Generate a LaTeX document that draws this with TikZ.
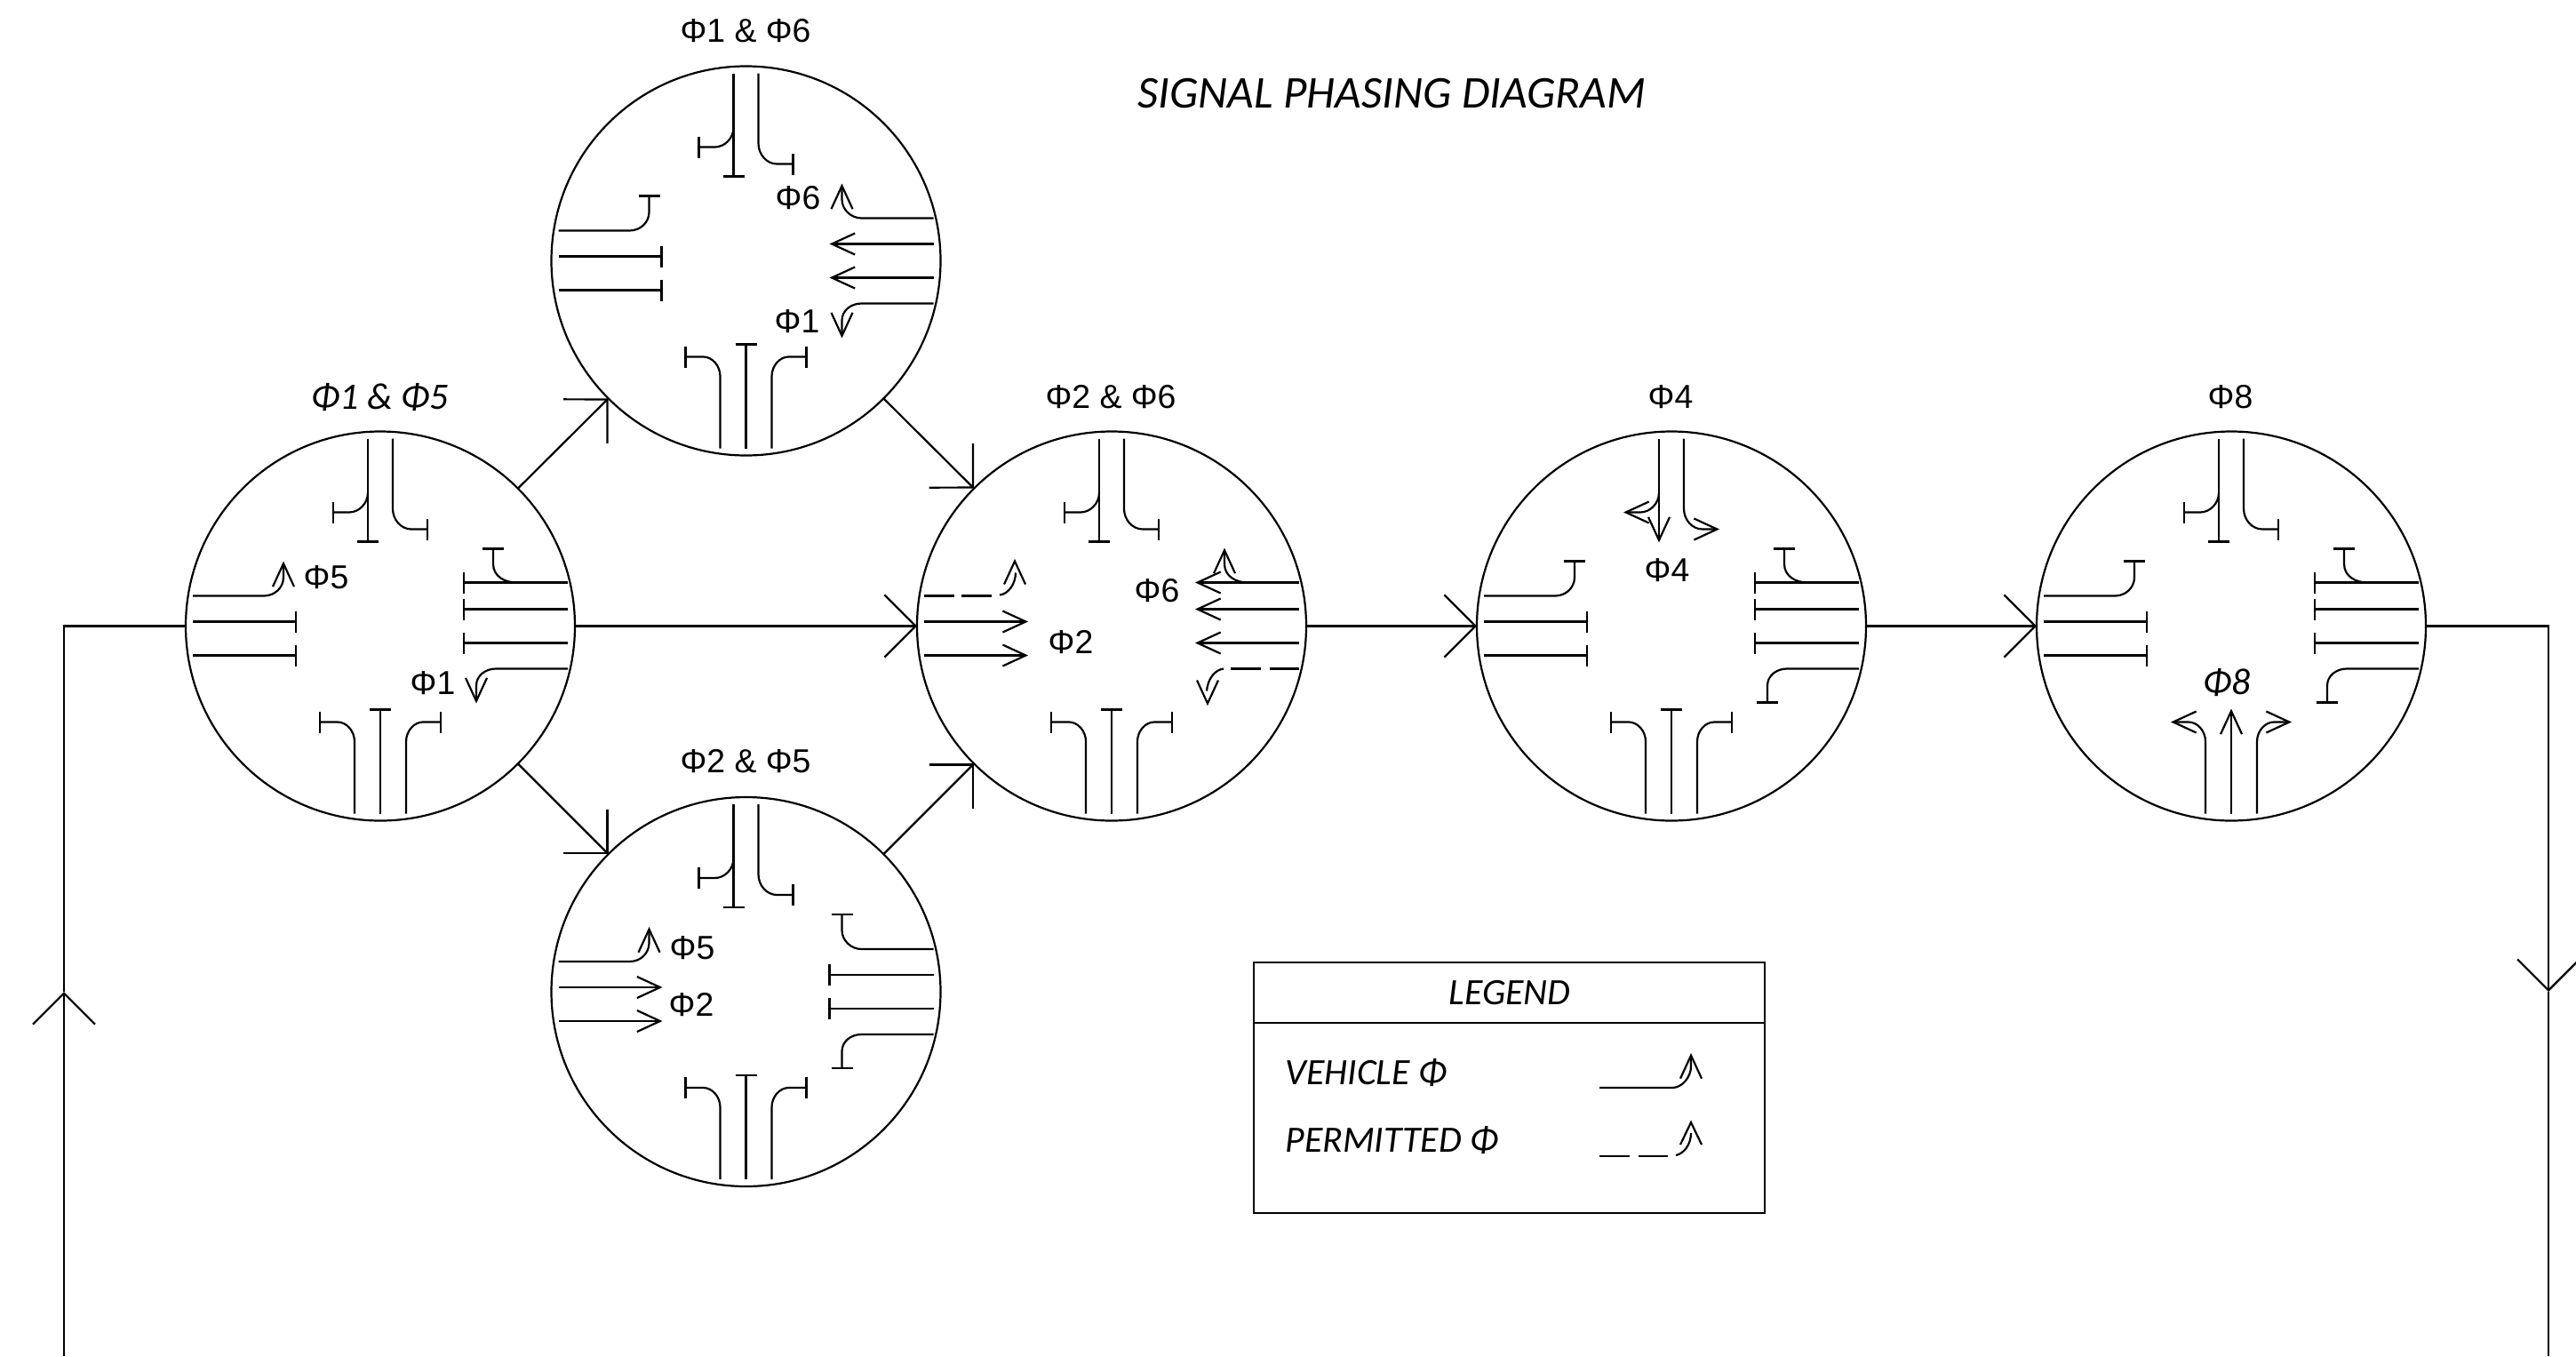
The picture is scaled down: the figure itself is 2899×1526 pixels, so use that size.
\documentclass[tikz,border=0pt]{standalone}
\usepackage{fontspec}
\setmainfont{Liberation Sans}
\newfontfamily\cali{Carlito}
\usetikzlibrary{arrows.meta}
\tikzset{
  x=0.5pt,y=-0.5pt,
  lw/.style={line width=1.1pt,line cap=butt},
  phase/.style={circle,draw,line width=1.1pt,minimum size=219pt,inner sep=0pt,outer sep=0pt},
  flow/.style={lw,-{Straight Barb[length=17.5pt,width=35pt]}},
  laneline/.style={lw},
  lanearrow/.style={lw,-{Straight Barb[length=13pt,width=12pt]}},
  lbl/.style={font=\fontsize{18.7}{20}\selectfont,inner sep=0pt},
  ilbl/.style={font=\cali\itshape\fontsize{21}{23}\selectfont,inner sep=0pt},
  ttl/.style={font=\cali\itshape\fontsize{25.6}{28}\selectfont,inner sep=0pt},
  leg/.style={font=\cali\itshape\fontsize{20.9}{23}\selectfont,inner sep=0pt},
}
% --- north approach
\newcommand\phNstop{%
  \draw[laneline] (-14,-211) -- (-14,-95);
  \draw[laneline] (-26,-95) -- (-2,-95);
  \draw[laneline] (-14,-150) .. controls (-14,-138) and (-24,-128) .. (-35,-128) -- (-53,-128);
  \draw[laneline] (-53,-140) -- (-53,-116);
  \draw[laneline] (14,-211) -- (14,-132) .. controls (14,-120) and (23,-109) .. (35,-109) -- (53,-109);
  \draw[laneline] (53,-121) -- (53,-97);
}
\newcommand\phNarrow{%
  \draw[lanearrow] (-14,-211) -- (-14,-94);
  \draw[lanearrow] (-14,-150) .. controls (-14,-138) and (-24,-128) .. (-35,-128) -- (-54,-128);
  \draw[lanearrow] (14,-211) -- (14,-132) .. controls (14,-120) and (23,-109) .. (35,-109) -- (54,-109);
}
% --- south approach
\newcommand\phSstop{%
  \draw[laneline] (0,211) -- (0,94);
  \draw[laneline] (-12,94) -- (12,94);
  \draw[laneline] (-29,211) -- (-29,130) .. controls (-29,118) and (-38,108) .. (-48,108) -- (-68,108);
  \draw[laneline] (-68,96) -- (-68,120);
  \draw[laneline] (29,211) -- (29,130) .. controls (29,118) and (38,108) .. (48,108) -- (68,108);
  \draw[laneline] (68,96) -- (68,120);
}
\newcommand\phSarrow{%
  \draw[lanearrow] (0,211) -- (0,93);
  \draw[lanearrow] (-29,211) -- (-29,130) .. controls (-29,118) and (-38,108) .. (-48,108) -- (-68,108);
  \draw[lanearrow] (29,211) -- (29,130) .. controls (29,118) and (38,108) .. (48,108) -- (68,108);
}
% --- west approach, turning lane
\newcommand\phWturnstop{%
  \draw[laneline] (-211,-34) -- (-131,-34) .. controls (-119,-34) and (-109,-43) .. (-109,-55) -- (-109,-73);
  \draw[laneline] (-121,-73) -- (-97,-73);
}
\newcommand\phWturnarrow{%
  \draw[lanearrow] (-211,-34) -- (-131,-34) .. controls (-119,-34) and (-109,-43) .. (-109,-55) -- (-109,-73);
}
\newcommand\phWturndash{%
  \draw[laneline] (-211,-34) -- (-177,-34);
  \draw[laneline] (-169,-34) -- (-135,-34);
  \draw[laneline] (-126,-35) .. controls (-116,-36) and (-108,-48) .. (-108,-60);
  \draw[laneline] (-121,-47) -- (-109,-73) -- (-97,-47);
}
% --- west approach, through lanes
\newcommand\phWthrustop{%
  \draw[laneline] (-211,-5) -- (-95,-5);
  \draw[laneline] (-95,-17) -- (-95,7);
  \draw[laneline] (-211,33) -- (-95,33);
  \draw[laneline] (-95,21) -- (-95,45);
}
\newcommand\phWthruarrow{%
  \draw[lanearrow] (-211,-5) -- (-94,-5);
  \draw[lanearrow] (-211,33) -- (-94,33);
}
% --- east approach, upper lane
\newcommand\phEupperstop{%
  \draw[laneline] (211,-49) -- (94,-49);
  \draw[laneline] (94,-61) -- (94,-37);
  \draw[laneline] (153,-49) .. controls (140,-49) and (127,-56) .. (127,-70) -- (127,-87);
  \draw[laneline] (115,-87) -- (139,-87);
}
\newcommand\phEupperarrow{%
  \draw[lanearrow] (211,-49) -- (94,-49);
  \draw[lanearrow] (153,-49) .. controls (140,-49) and (127,-56) .. (127,-70) -- (127,-88);
}
\newcommand\phEcurvestop{%
  \draw[laneline] (211,-48) -- (130,-48) .. controls (118,-48) and (108,-58) .. (108,-69) -- (108,-87);
  \draw[laneline] (96,-87) -- (120,-87);
}
\newcommand\phEcurvearrow{%
  \draw[lanearrow] (211,-48) -- (130,-48) .. controls (118,-48) and (108,-58) .. (108,-69) -- (108,-87);
}
% --- east approach, through lanes
\newcommand\phEthrustop{%
  \draw[laneline] (211,-19) -- (94,-19);
  \draw[laneline] (94,-31) -- (94,-7);
  \draw[laneline] (211,19) -- (94,19);
  \draw[laneline] (94,7) -- (94,31);
}
\newcommand\phEthruarrow{%
  \draw[lanearrow] (211,-19) -- (94,-19);
  \draw[lanearrow] (211,19) -- (94,19);
}
% --- east approach, lower lane
\newcommand\phElowerstop{%
  \draw[laneline] (211,48) -- (130,48) .. controls (118,48) and (108,56) .. (108,67) -- (108,86);
  \draw[laneline] (96,86) -- (120,86);
}
\newcommand\phElowerarrow{%
  \draw[lanearrow] (211,48) -- (130,48) .. controls (118,48) and (108,56) .. (108,67) -- (108,87);
}
\newcommand\phElowerdash{%
  \draw[laneline] (211,48) -- (178,48);
  \draw[laneline] (168,48) -- (134,48);
  \draw[laneline] (126,48) .. controls (116,49) and (108,60) .. (107,73);
  \draw[laneline] (96,61) -- (108,87) -- (120,61);
}
\begin{document}
\begin{tikzpicture}
\useasboundingbox (0,0) rectangle (2899,1526);
% phases
\node[phase] (c1) at (428,704.5) {};
\node[phase] (c2) at (839.5,293.5) {};
\node[phase] (c3) at (1251,704.5) {};
\node[phase] (c4) at (839.5,1116) {};
\node[phase] (c5) at (1881,704.5) {};
\node[phase] (c6) at (2511,704.5) {};
% lanes
\begin{scope}[shift={(428,704.5)}]
  \phNstop \phSstop \phWturnarrow \phWthrustop \phEupperstop \phEthrustop \phElowerarrow
\end{scope}
\begin{scope}[shift={(839.5,293.5)}]
  \phNstop \phSstop \phWturnstop \phWthrustop \phEcurvearrow \phEthruarrow \phElowerarrow
\end{scope}
\begin{scope}[shift={(1251,704.5)}]
  \phNstop \phSstop \phWturndash \phWthruarrow \phEupperarrow \phEthruarrow \phElowerdash
\end{scope}
\begin{scope}[shift={(839.5,1116)}]
  \phNstop \phSstop \phWturnarrow \phWthruarrow \phEcurvestop \phEthrustop \phElowerstop
\end{scope}
\begin{scope}[shift={(1881,704.5)}]
  \phNarrow \phSstop \phWturnstop \phWthrustop \phEupperstop \phEthrustop \phElowerstop
\end{scope}
\begin{scope}[shift={(2511,704.5)}]
  \phNstop \phSarrow \phWturnstop \phWthrustop \phEupperstop \phEthrustop \phElowerstop
\end{scope}
% connectors
\coordinate (startL) at (72,1526);
\coordinate (midL) at (72,1116);
\coordinate (midR) at (2868,1116);
\coordinate (endR) at (2868,1526);
\draw[flow] (startL) -- (midL);
\draw[lw] (midL) |- (c1.west);
\draw[flow] (c1.-45) -- (c4.135);
\draw[flow] (c1.45) -- (c2.225);
\draw[flow] (c1.east) -- (c3.west);
\draw[flow] (c2.-45) -- (c3.135);
\draw[flow] (c4.45) -- (c3.225);
\draw[flow] (c3.east) -- (c5.west);
\draw[flow] (c5.east) -- (c6.west);
\draw[flow] (c6.east) -| (midR);
\draw[lw] (midR) -- (endR);
% titles
\node[ttl] (title) at (1566,105) {SIGNAL PHASING DIAGRAM};
\node[ilbl] (t1) at (428,447) {Φ1 \& Φ5};
\node[lbl] (t2) at (839,35) {Φ1 \& Φ6};
\node[lbl] (t3) at (1250,447) {Φ2 \& Φ6};
\node[lbl] (t4) at (839,857) {Φ2 \& Φ5};
\node[lbl] (t5) at (1880,447) {Φ4};
\node[lbl] (t6) at (2510,447) {Φ8};
% inner labels
\node[lbl] (a1) at (367,650) {Φ5};
\node[lbl] (a2) at (487,769) {Φ1};
\node[lbl] (a3) at (898,223) {Φ6};
\node[lbl] (a4) at (897,362) {Φ1};
\node[lbl] (a5) at (1302,665) {Φ6};
\node[lbl] (a6) at (1205,723) {Φ2};
\node[lbl] (a7) at (779,1067) {Φ5};
\node[lbl] (a8) at (778,1131) {Φ2};
\node[lbl] (a9) at (1876,642) {Φ4};
\node[ilbl] (a10) at (2506,768) {Φ8};
% legend
\node[draw,line width=1.1pt,minimum width=287.5pt,minimum height=141pt,inner sep=0pt,outer sep=0pt] (legbox) at (1698.5,1224) {};
\coordinate (legL) at (legbox.west |- 0,1151);
\coordinate (legR) at (legbox.east |- 0,1151);
\draw[lw] (legL) -- (legR);
\node[leg] (legt) at (1699,1117) {LEGEND};
\node[leg,anchor=west] (leg1) at (1446,1207) {VEHICLE Φ};
\node[leg,anchor=west] (leg2) at (1446,1283) {PERMITTED Φ};
\draw[lw,-{Straight Barb[length=13pt,width=12pt]}] (1800,1224) -- (1882,1224) .. controls (1893,1224) and (1903,1212) .. (1903,1200) -- (1903,1185);
\draw[lw] (1800,1301) -- (1834,1301);
\draw[lw] (1844,1301) -- (1877,1301);
\draw[lw] (1886,1300) .. controls (1895,1298) and (1903,1288) .. (1903,1275);
\draw[lw] (1891,1288) -- (1903,1263) -- (1915,1288);
\end{tikzpicture}
\end{document}
